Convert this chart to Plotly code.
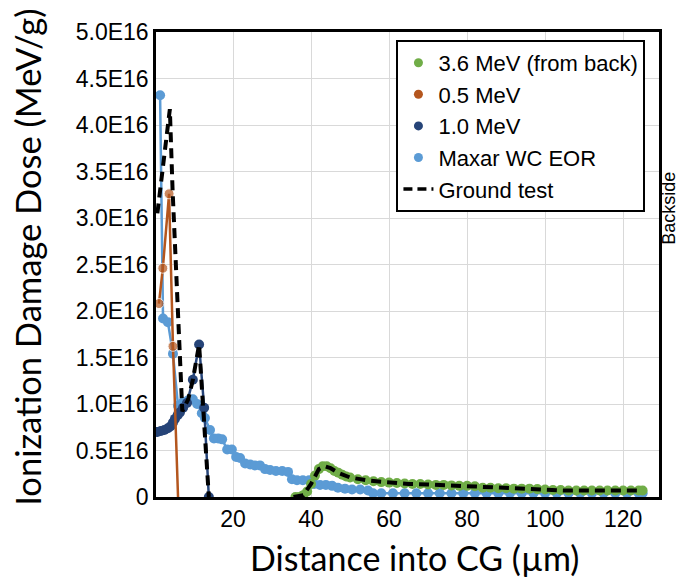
import plotly.graph_objects as go

# ---------------- data (dose in units of 1E16 MeV/g, distance in µm) ----------------
maxar_x = [1.3, 2.05, 3.3, 4.6, 5.9, 7.2, 8.5, 9.7, 10.8, 12.0, 12.8, 14.1, 15.1, 16.2, 17.2,
           18.5, 19.7, 20.8, 21.8, 23.1, 24.4, 25.6, 26.9, 28.2, 29.5, 31.0, 32.6, 34.1, 35.1,
           36.4, 37.9, 39.5, 40.8, 42.3, 43.8, 45.4, 46.9, 48.7, 50.5, 52.6, 54.6, 55.9, 58,
           61, 64, 67, 70, 73, 76, 79, 82, 85, 88, 91, 94, 97, 100, 103, 106, 109, 112, 115,
           118, 121, 124, 125]
maxar_y = [4.32, 1.92, 1.88, 1.54, 0.98, 1.02, 1.04, 1.05, 1.00, 0.90, 0.85, 0.72, 0.63, 0.63, 0.62,
           0.51, 0.51, 0.43, 0.42, 0.36, 0.35, 0.34, 0.34, 0.30, 0.29, 0.28, 0.28, 0.27, 0.19,
           0.18, 0.18, 0.18, 0.14, 0.13, 0.13, 0.12, 0.10, 0.09, 0.08, 0.08, 0.07, 0.04, 0.04,
           0.04, 0.04, 0.04, 0.04, 0.04, 0.04, 0.04, 0.04, 0.04, 0.04, 0.04, 0.04, 0.04, 0.04, 0.04,
           0.04, 0.04, 0.04, 0.04, 0.04, 0.04, 0.04, 0.04]

mev05_x = [1.0, 2.0, 3.6, 4.6, 5.9]
mev05_y = [2.08, 2.46, 3.26, 1.62, 0.0]

mev10_x = [0.6, 1.5, 2.4, 3.3, 4.0, 4.6, 5.1, 5.8, 6.4, 7.2, 8.2, 9.7, 11.3, 12.6, 13.8]
mev10_y = [0.70, 0.71, 0.72, 0.74, 0.76, 0.80, 0.84, 0.88, 0.91, 0.96, 1.01, 1.26, 1.64, 0.96, 0.0]

mev36_x = [36, 37, 38, 39, 40, 41, 42, 43, 44, 45, 46, 47, 48, 49, 50, 52, 54, 56, 58, 60, 62,
           64, 66, 68, 70, 72, 74, 76, 78, 80, 82, 84, 86, 88, 90, 92, 94, 96, 98, 100, 102,
           104, 106, 108, 110, 112, 114, 116, 118, 120, 122, 124, 125]
mev36_y = [0.00, 0.00, 0.02, 0.06, 0.14, 0.23, 0.30, 0.33, 0.33, 0.31, 0.28, 0.26, 0.24, 0.22,
           0.21, 0.19, 0.18, 0.17, 0.16, 0.155, 0.15, 0.145, 0.14, 0.14, 0.135, 0.13, 0.13, 0.125,
           0.12, 0.12, 0.115, 0.10, 0.10, 0.095, 0.095, 0.09, 0.09, 0.09, 0.085, 0.08, 0.075,
           0.075, 0.07, 0.07, 0.07, 0.07, 0.07, 0.07, 0.07, 0.07, 0.07, 0.07, 0.07]

ground_x = [0.6, 1.5, 2.5, 3.8, 4.5, 5.5, 6.5, 7.0, 8.5, 9.7, 11.3, 12.4, 13.2, 13.8, None,
            35.5, 38, 40, 42, 43.5, 45, 47, 50, 55, 60, 65, 70, 75, 80, 85, 90, 95, 100, 105,
            110, 115, 120, 125]
ground_y = [3.05, 3.35, 3.75, 4.17, 3.30, 2.30, 1.20, 0.92, 1.05, 1.26, 1.64, 0.98, 0.36, 0.0, None,
            0.0, 0.02, 0.14, 0.30, 0.33, 0.31, 0.26, 0.21, 0.175, 0.155, 0.14, 0.135, 0.125, 0.12,
            0.10, 0.095, 0.09, 0.08, 0.07, 0.07, 0.07, 0.07, 0.07]

legend_names = ["3.6 MeV (from back)", "0.5 MeV", "1.0 MeV", "Maxar WC EOR", "Ground test"]
y_tickvals = [0, 0.5, 1.0, 1.5, 2.0, 2.5, 3.0, 3.5, 4.0, 4.5, 5.0]
y_ticktext = ["0", "0.5E16", "1.0E16", "1.5E16", "2.0E16", "2.5E16", "3.0E16", "3.5E16",
              "4.0E16", "4.5E16", "5.0E16"]
x_tickvals = [20, 40, 60, 80, 100, 120]

C_GREEN = "#70AD47"
C_BROWN = "#B4561E"
C_NAVY = "#264478"
C_BLUE = "#5B9BD5"

fig = go.Figure()

fig.add_trace(go.Scatter(x=maxar_x, y=maxar_y, mode="lines+markers", showlegend=False,
                         line=dict(color=C_BLUE, width=2.5), marker=dict(color=C_BLUE, size=10)))
fig.add_trace(go.Scatter(x=mev10_x, y=mev10_y, mode="lines+markers", showlegend=False,
                         line=dict(color=C_NAVY, width=2.5), marker=dict(color=C_NAVY, size=10)))
fig.add_trace(go.Scatter(x=mev05_x, y=mev05_y, mode="lines+markers", showlegend=False,
                         line=dict(color=C_BROWN, width=2.5),
                         marker=dict(color=C_BROWN, size=[10, 10, 10, 10, 0])))
fig.add_trace(go.Scatter(x=mev36_x, y=mev36_y, mode="lines+markers", showlegend=False,
                         line=dict(color=C_GREEN, width=2.5), marker=dict(color=C_GREEN, size=10)))
fig.add_trace(go.Scatter(x=ground_x, y=ground_y, mode="lines", showlegend=False,
                         connectgaps=False,
                         line=dict(color="black", width=4, dash="10px,6px")))

# legend entries
for name, col in zip(legend_names[:4], [C_GREEN, C_BROWN, C_NAVY, C_BLUE]):
    fig.add_trace(go.Scatter(x=[None], y=[None], mode="markers", name=name,
                             marker=dict(color=col, size=9)))
fig.add_trace(go.Scatter(x=[None], y=[None], mode="lines", name=legend_names[4],
                         line=dict(color="black", width=3.5, dash="9px,5px")))

# the page body has an 8px margin: the figure is sized/offset to fit the 684x578 window
fig.update_layout(
    width=676, height=570,
    margin=dict(l=148, r=25, t=11, b=81),
    paper_bgcolor="white", plot_bgcolor="white",
    font=dict(family="Liberation Sans, Arial, sans-serif", size=23, color="black"),
    legend=dict(x=0.478, y=0.983, xanchor="left", yanchor="top",
                bgcolor="white", bordercolor="black", borderwidth=2,
                font=dict(size=22), itemwidth=30, tracegroupgap=0),
    xaxis=dict(range=[0.25, 129.2], tickvals=x_tickvals, showgrid=True,
               gridcolor="#D9D9D9", gridwidth=1, showline=True, linecolor="black",
               linewidth=2.5, mirror=True, zeroline=False, ticks="",
               tickfont=dict(size=23)),
    yaxis=dict(range=[0, 5], tickvals=y_tickvals, ticktext=y_ticktext, showgrid=True,
               gridcolor="#D9D9D9", gridwidth=1, showline=True, linecolor="black",
               linewidth=2.5, mirror=True, zeroline=False, ticks="",
               tickfont=dict(size=23)),
    annotations=[
        dict(text="Ionization Damage Dose (MeV/g)", xref="paper", yref="paper",
             x=-0.256, y=0.515, xanchor="center", yanchor="middle", textangle=-90,
             showarrow=False, font=dict(family="Lato", size=34.5, color="black")),
        dict(text="Distance into CG (µm)", xref="paper", yref="paper",
             x=0.513, y=-0.13, xanchor="center", yanchor="middle",
             showarrow=False, font=dict(family="Lato", size=34, color="black")),
        dict(text="Backside", xref="paper", yref="paper",
             x=1.021, y=0.621, xanchor="center", yanchor="middle", textangle=-90,
             showarrow=False, font=dict(family="Liberation Sans", size=18, color="black")),
    ],
)

fig.write_html("out.html")
